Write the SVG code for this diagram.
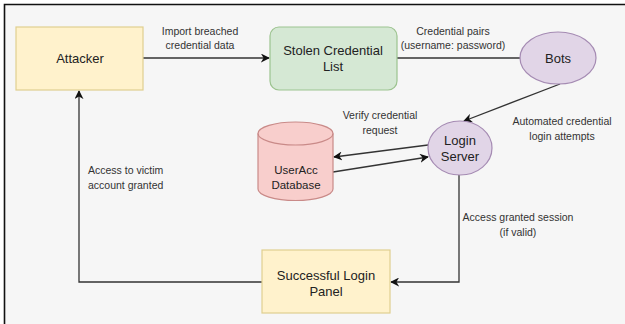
<svg xmlns="http://www.w3.org/2000/svg" width="625" height="324" viewBox="0 0 625 324">
<style>
.lbl{font-family:"Liberation Sans",Arial,sans-serif;font-size:10.5px;fill:#333}
.nt{font-family:"Liberation Sans",Arial,sans-serif;font-size:13px;fill:#222;text-anchor:middle}
.c{text-anchor:middle}
.edge{fill:none;stroke:#333;stroke-width:1.3}
.y{fill:#fff2cc;stroke:#e0cf8f;stroke-width:1.2}
</style>
<defs>
<marker id="ah" viewBox="0 0 10 10" refX="9" refY="5" markerWidth="9" markerHeight="9" markerUnits="userSpaceOnUse" orient="auto">
<path d="M0,0 L10,5 L0,10 L3,5 Z" fill="#111"/>
</marker>
</defs>
<rect x="0" y="0" width="625" height="324" fill="#ffffff"/>
<rect x="5" y="5" width="620" height="319" fill="#f6f6f6"/>
<path d="M4.5,324 V4.5 H625" fill="none" stroke="#111" stroke-width="1.6"/>

<g id="connectors">
<path class="edge" d="M143,58 H269" marker-end="url(#ah)"/>
<path class="edge" d="M397,58 H531" marker-end="url(#ah)"/>
<path class="edge" d="M560,84 L464,121" marker-end="url(#ah)"/>
<path class="edge" d="M428,145 L334,157" marker-end="url(#ah)"/>
<path class="edge" d="M333,172 L428,157" marker-end="url(#ah)"/>
<path class="edge" d="M459,175 V282 H391" marker-end="url(#ah)"/>
<path class="edge" d="M262,282 H79 V91" marker-end="url(#ah)"/>
<text class="lbl c" x="200" y="35">Import breached</text>
<text class="lbl c" x="200" y="49">credential data</text>
<text class="lbl c" x="453" y="35">Credential pairs</text>
<text class="lbl c" x="453" y="49">(username: password)</text>
<text class="lbl c" x="562" y="125">Automated credential</text>
<text class="lbl c" x="562" y="140">login attempts</text>
<text class="lbl c" x="380" y="119">Verify credential</text>
<text class="lbl c" x="380" y="134">request</text>
<text class="lbl c" x="518" y="221">Access granted session</text>
<text class="lbl c" x="518" y="236">(if valid)</text>
<text class="lbl" x="88" y="174">Access to victim</text>
<text class="lbl" x="88" y="189">account granted</text>
</g>

<g id="attacker">
<rect class="y" x="16" y="27" width="127" height="63"/>
<text class="nt" x="80" y="63">Attacker</text>
</g>
<g id="stolen-list">
<rect x="270" y="27" width="127" height="63" rx="9" fill="#d5e8d4" stroke="#9cc38f" stroke-width="1.2"/>
<text class="nt" x="333" y="55">Stolen Credential</text>
<text class="nt" x="333" y="71">List</text>
</g>
<g id="bots">
<ellipse cx="558" cy="58" rx="38" ry="26" fill="#e1d5e7" stroke="#a58bb3" stroke-width="1.2"/>
<text class="nt" x="558" y="63">Bots</text>
</g>
<g id="login-server">
<ellipse cx="460" cy="148" rx="32" ry="27" fill="#e1d5e7" stroke="#a58bb3" stroke-width="1.2"/>
<text class="nt" x="460" y="145">Login</text>
<text class="nt" x="460" y="161">Server</text>
</g>
<g id="database">
<path d="M258,133.5 A37.5,11.5 0 0 1 333,133.5 V189 A37.5,11.5 0 0 1 258,189 Z" fill="#f8cecc" stroke="#c98a88" stroke-width="1.2"/>
<path d="M258,133.5 A37.5,11.5 0 0 0 333,133.5" fill="none" stroke="#c98a88" stroke-width="1.2"/>
<text class="nt" x="296" y="174" style="font-size:11.5px">UserAcc</text>
<text class="nt" x="296" y="189" style="font-size:11.5px">Database</text>
</g>
<g id="success-panel">
<rect class="y" x="262" y="250" width="128" height="63"/>
<text class="nt" x="326" y="280">Successful Login</text>
<text class="nt" x="326" y="296">Panel</text>
</g>
</svg>
